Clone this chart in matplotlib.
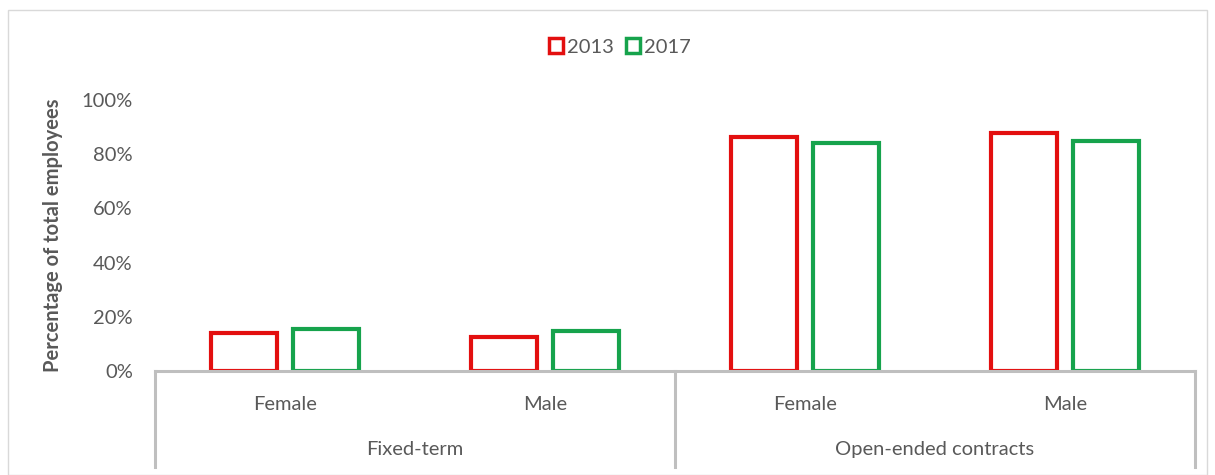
import matplotlib
matplotlib.use("Agg")
import matplotlib.pyplot as plt
from matplotlib.patches import Rectangle
from matplotlib.ticker import PercentFormatter
import numpy as np

plt.rcParams["font.family"] = ["Lato", "DejaVu Sans"]

# data
groups = ["Fixed-term", "Open-ended contracts"]
genders = ["Female", "Male", "Female", "Male"]
years = ["2013", "2017"]
v2013 = [14.0, 12.5, 86.2, 87.7]
v2017 = [15.5, 14.8, 84.2, 84.9]

red = "#E30F0F"
green = "#16A34C"
grey = "#595959"
axis_grey = "#BFBFBF"
fs = 14.5

fig = plt.figure(figsize=(12.15, 4.75), dpi=100)
ax = fig.add_axes([155 / 1215, 1 - 371 / 475, 1040 / 1215, 271 / 475])

x = np.arange(len(genders))
w = 0.255
off = 0.158
ax.bar(x - off, v2013, w, facecolor="white", edgecolor=red, linewidth=3, label=years[0])
ax.bar(x + off, v2017, w, facecolor="white", edgecolor=green, linewidth=3, label=years[1])

ax.set_xlim(-0.5, len(genders) - 0.5)
ax.set_ylim(0, 100)
ax.set_yticks(range(0, 101, 20))
ax.yaxis.set_major_formatter(PercentFormatter(100, decimals=0))
ax.tick_params(axis="y", length=0, pad=16, labelsize=fs, labelcolor=grey)
ax.set_xticks([])

for s in ["left", "right", "top"]:
    ax.spines[s].set_visible(False)
ax.spines["bottom"].set_color(axis_grey)
ax.spines["bottom"].set_linewidth(2.2)
ax.spines["bottom"].set_zorder(3)

ax.set_ylabel("Percentage of total employees", fontsize=fs, fontweight="bold", color=grey)
ax.yaxis.set_label_coords(-0.088, 0.5)

# two-level category axis
tr = ax.get_xaxis_transform()
for i, g in enumerate(genders):
    ax.text(i, -0.125, g, transform=tr, ha="center", va="center", fontsize=fs, color=grey)
for j, g in enumerate(groups):
    ax.text(2 * j + 0.5, -0.29, g, transform=tr, ha="center", va="center", fontsize=fs, color=grey)
for xs in [-0.5, 1.5, 3.5]:
    ax.plot([xs, xs], [0, -0.355], transform=tr, color=axis_grey, lw=2.2, clip_on=False)

handles = [Rectangle((0, 0), 1, 1, facecolor="white", edgecolor=red, linewidth=2.5),
           Rectangle((0, 0), 1, 1, facecolor="white", edgecolor=green, linewidth=2.5)]
fig.legend(handles, years, loc="center", bbox_to_anchor=(620 / 1215, 1 - 47 / 475), ncol=2,
           frameon=False, fontsize=fs, handlelength=0.7, handleheight=0.7,
           handletextpad=0.2, columnspacing=0.6, labelcolor=grey)

# light outer border like the source chart
fig.patches.append(Rectangle((8 / 1215, 0), 1 - 16 / 1215, 1 - 10 / 475, transform=fig.transFigure,
                             fill=False, edgecolor="#D9D9D9", linewidth=1))

fig.savefig("out.png", dpi=100)
